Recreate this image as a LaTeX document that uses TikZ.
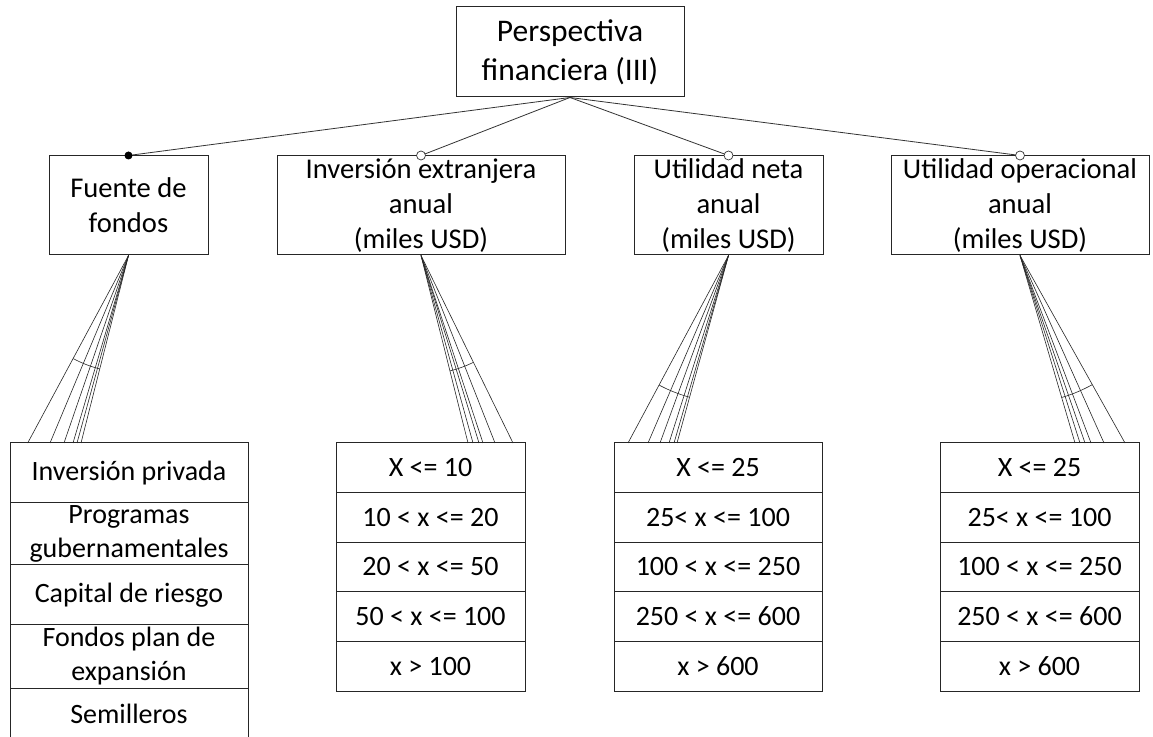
\documentclass[tikz,border=0pt]{standalone}
\usepackage{fontspec}
\setmainfont{Carlito}
\usetikzlibrary{calc}
\begin{document}
\begin{tikzpicture}[x=1pt,y=1pt,
  box/.style={draw=black!85, line width=1pt, inner sep=0pt, align=center,
    font=\fontsize{28.6}{35}\selectfont},
  rootbox/.style={box, font=\fontsize{31.5}{39}\selectfont},
  rowbox/.style={box, font=\fontsize{28}{34}\selectfont},
  link/.style={draw=black!80, line width=0.8pt},
  fan/.style={draw=black!85, line width=0.6pt},
  opendot/.style={draw=black!80, fill=white, line width=0.7pt},
  fulldot/.style={fill=black}]
\clip (0,0) rectangle (1153,736);
\fill[white] (0,0) rectangle (1153,736);

% Root and first-level features
\node[rootbox, minimum width=228pt, minimum height=90pt] (root) at (570,684)
  {Perspectiva\\financiera (III)};
\node[box, minimum width=159pt, minimum height=99pt] (fuente) at (128.5,530.5)
  {Fuente de\\fondos};
\node[box, minimum width=288pt, minimum height=99pt] (inv) at (421,530.5)
  {Inversión extranjera\\anual\\(miles USD)};
\node[box, minimum width=189pt, minimum height=99pt] (neta) at (728.5,530.5)
  {Utilidad neta\\anual\\(miles USD)};
\node[box, minimum width=258pt, minimum height=99pt] (oper) at (1020,530.5)
  {Utilidad operacional\\anual\\(miles USD)};

% Links from the root, with mandatory / optional markers
\draw[link] (root.south) -- (fuente.north);
\draw[link] (root.south) -- (inv.north);
\draw[link] (root.south) -- (neta.north);
\draw[link] (root.south) -- (oper.north);
\fill[fulldot] (fuente.north) circle (4pt);
\draw[opendot] (inv.north) circle (4.5pt);
\draw[opendot] (neta.north) circle (4.5pt);
\draw[opendot] (oper.north) circle (4.5pt);

% Fuente de fondos: alternatives
\node[rowbox, minimum width=238pt, minimum height=60pt] (f1) at (129,263) {Inversión privada};
\node[rowbox, minimum width=238pt, minimum height=62pt] (f2) at (129,202) {Programas\\gubernamentales};
\node[rowbox, minimum width=238pt, minimum height=60pt] (f3) at (129,141) {Capital de riesgo};
\node[rowbox, minimum width=238pt, minimum height=63pt] (f4) at (129,79.5) {Fondos plan de\\expansión};
\node[rowbox, minimum width=238pt, minimum height=52pt] (f5) at (129,22) {Semilleros};

% Value ranges
\foreach \t [count=\i] in {X <= 10, 10 < x <= 20, 20 < x <= 50, 50 < x <= 100, x > 100}
  \node[rowbox, minimum width=189pt, minimum height=49.6pt] (a\i) at (430.5,{317.8-49.6*\i}) {\t};
\foreach \t [count=\i] in {X <= 25, 25< x <= 100, 100 < x <= 250, 250 < x <= 600, x > 600}
  \node[rowbox, minimum width=208pt, minimum height=49.6pt] (b\i) at (718,{317.8-49.6*\i}) {\t};
\foreach \t [count=\i] in {X <= 25, 25< x <= 100, 100 < x <= 250, 250 < x <= 600, x > 600}
  \node[rowbox, minimum width=199pt, minimum height=49.6pt] (c\i) at (1039.5,{317.8-49.6*\i}) {\t};

% Fan ends on top of each list
\foreach \x [count=\i] in {27.7,50,64,73,77,81} \coordinate (fe\i) at (\x,293);
\foreach \x [count=\i] in {468,473,479,483,495,513} \coordinate (ae\i) at (\x,293);
\foreach \x [count=\i] in {628,648,660,669,674,677} \coordinate (be\i) at (\x,293);
\foreach \x [count=\i] in {1075,1080,1085,1091,1104,1125} \coordinate (ce\i) at (\x,293);

% Group fans with their arcs
\foreach \src/\e/\r in {fuente/fe/117, inv/ae/119, neta/be/147, oper/ce/148} {
  \foreach \i in {1,...,6} \draw[fan] (\src.south) -- (\e\i);
  \draw[fan] let \p1=($(\e1)-(\src.south)$), \p2=($(\e6)-(\src.south)$),
      \n1={atan2(\y1,\x1)}, \n2={atan2(\y2,\x2)} in
    ($(\src.south)!\r pt!(\e1)$) arc[start angle=\n1, end angle=\n2, radius=\r pt];
}
\end{tikzpicture}
\end{document}
